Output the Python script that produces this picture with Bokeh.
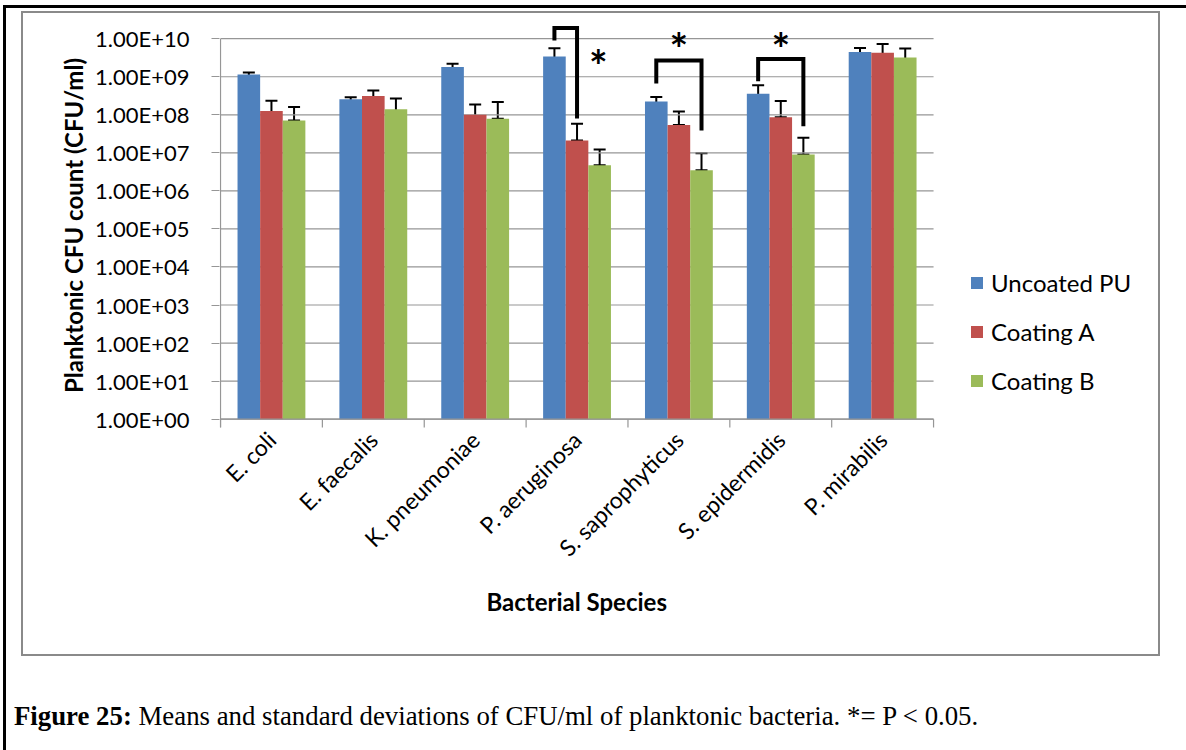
import math
from bokeh.plotting import figure
from bokeh.layouts import column
from bokeh.models import (ColumnDataSource, Range1d, FixedTicker, Whisker, TeeHead,
                          Legend, LegendItem, CustomJSTickFormatter, Div, Title)
from bokeh.core.properties import value
from bokeh.embed import file_html
from bokeh.resources import INLINE

# ---------------- data ----------------
species = ["E. coli", "E. faecalis", "K. pneumoniae", "P. aeruginosa",
           "S. saprophyticus", "S. epidermidis", "P. mirabilis"]
series_names = ["Uncoated PU", "Coating A", "Coating B"]
series_colors = ["#4F81BD", "#C0504D", "#9BBB59"]

uncoated_mean = [1.15e9, 2.55e8, 1.8e9, 3.4e9, 2.25e8, 3.6e8, 4.5e9]
uncoated_sd = [1.5e8, 3.5e7, 4.0e8, 2.2e9, 6.7e7, 2.4e8, 1.2e9]
coating_a_mean = [1.25e8, 3.1e8, 1.0e8, 2.1e7, 5.4e7, 8.6e7, 4.3e9]
coating_a_sd = [1.1e8, 1.25e8, 8.6e7, 3.7e7, 6.9e7, 1.45e8, 2.95e9]
coating_b_mean = [7.1e7, 1.4e8, 7.9e7, 4.7e6, 3.5e6, 9.0e6, 3.2e9]
coating_b_sd = [8.9e7, 1.27e8, 1.38e8, 7.6e6, 6.3e6, 1.6e7, 2.33e9]

y_tick_values = [1e0, 1e1, 1e2, 1e3, 1e4, 1e5, 1e6, 1e7, 1e8, 1e9, 1e10]
y_tick_labels = ["1.00E+00", "1.00E+01", "1.00E+02", "1.00E+03", "1.00E+04", "1.00E+05",
                 "1.00E+06", "1.00E+07", "1.00E+08", "1.00E+09", "1.00E+10"]

# significance brackets (category index, from series, to series, levels)
bracket_species = [3, 4, 5]
bracket_from = [0, 0, 0]
bracket_to = [1, 2, 2]
bracket_top = [1.92e10, 2.66e9, 2.94e9]
bracket_from_end = [9.0e9, 6.67e8, 7.67e8]
bracket_to_end = [8.0e7, 3.84e7, 4.99e7]
star_x = [3.71, 4.5, 5.5]
star_y = [3.3e9, 9.4e9, 9.4e9]

x_title = "Bacterial Species"
y_title = "Planktonic CFU count (CFU/ml)"
caption_bold = "Figure 25:"
caption_text = "Means and standard deviations of CFU/ml of planktonic bacteria. *= P &lt; 0.05."

# ---------------- layout ----------------
W, H = 1135, 641                # chart canvas (inside grey border)
BL, BR, BT, BB = 196, 8, 10, 231
CX0, CY0 = 23, 13               # page position of canvas
PX_PER_CAT = 711 / 7.01         # pixels per category
X_START = -0.01
frame_w = W - BL - BR
X_END = X_START + frame_w / PX_PER_CAT
LOG_LO, LOG_HI = -0.22, 10.4
frame_h = H - BT - BB
px_per_dec = frame_h / (LOG_HI - LOG_LO)
n_cat = len(species)


def Y(py):  # page pixel -> data y (log)
    return 10 ** (LOG_HI - (py - CY0 - BT) / px_per_dec)


p = figure(width=W, height=H, output_backend="svg", toolbar_location=None,
           x_range=Range1d(X_START, X_END), y_range=Range1d(10 ** LOG_LO, 10 ** LOG_HI),
           y_axis_type="log", title=None,
           min_border_left=BL, min_border_right=BR, min_border_top=BT, min_border_bottom=BB,
           margin=(3, 0, 0, 15),
           styles={"border": "2px solid #8a8a8a", "box-sizing": "content-box"})
p.background_fill_color = "white"
p.border_fill_color = "white"
p.outline_line_color = None

FONT = "Lato"
GRID = "#969696"

# horizontal gridlines across the category area only
p.segment(x0=[0] * len(y_tick_values), y0=y_tick_values,
          x1=[n_cat] * len(y_tick_values), y1=y_tick_values,
          line_color=GRID, line_width=1.2)

# bars
bar_w = 0.222
means = [uncoated_mean, coating_a_mean, coating_b_mean]
sds = [uncoated_sd, coating_a_sd, coating_b_sd]
renderers = []
for k in range(3):
    xs = [i + 0.5 + (k - 1) * bar_w for i in range(n_cat)]
    up = [m + s for m, s in zip(means[k], sds[k])]
    lo = [(m - s) if (m - s) > 0 else m for m, s in zip(means[k], sds[k])]
    src = ColumnDataSource(dict(x=xs, top=means[k], upper=up, lower=lo))
    r = p.vbar(x="x", top="top", bottom=y_tick_values[0], width=bar_w, source=src,
               fill_color=series_colors[k], line_color=None)
    renderers.append(r)
    wk = Whisker(source=src, base="x", upper="upper", lower="lower", dimension="height",
                 line_color="black", line_width=2,
                 upper_head=TeeHead(size=12, line_color="black", line_width=2),
                 lower_head=TeeHead(size=12, line_color="black", line_width=2))
    p.add_layout(wk)

# axis lines and category boundary ticks
p.segment(x0=[0], y0=[Y(423)], x1=[0], y1=[y_tick_values[-1]], line_color=GRID, line_width=1.2)
p.segment(x0=[0], y0=[y_tick_values[0]], x1=[n_cat], y1=[y_tick_values[0]],
          line_color=GRID, line_width=1.2)
bx = list(range(n_cat + 1))
p.segment(x0=bx, y0=[y_tick_values[0]] * len(bx), x1=bx, y1=[Y(424)] * len(bx),
          line_color=GRID, line_width=1.2)

# brackets
bxs, bys = [], []
for c, f, t, top, fe, te in zip(bracket_species, bracket_from, bracket_to,
                                 bracket_top, bracket_from_end, bracket_to_end):
    xf = c + 0.5 + (f - 1) * bar_w
    xt = c + 0.5 + (t - 1) * bar_w
    bxs.append([xf, xf, xt, xt])
    bys.append([fe, top, top, te])
p.multi_line(xs=bxs, ys=bys, line_color="black", line_width=4, line_join="miter")
p.text(x=star_x, y=star_y, text=["*"] * len(star_x), text_font=value(FONT),
       text_font_style="bold", text_font_size="44px", text_align="center",
       text_baseline="alphabetic", y_offset=8, text_color="black")

# y axis
p.yaxis.ticker = FixedTicker(ticks=y_tick_values, minor_ticks=[])
p.yaxis.formatter = CustomJSTickFormatter(
    args=dict(vals=y_tick_values, labs=y_tick_labels),
    code="""
    for (let i = 0; i < vals.length; i++) {
        if (Math.abs(Math.log10(vals[i]) - Math.log10(tick)) < 1e-6) return labs[i];
    }
    return "";
    """)
p.yaxis.axis_line_color = None
p.yaxis.major_tick_line_color = GRID
p.yaxis.major_tick_out = 8
p.yaxis.major_tick_in = 0
p.yaxis.minor_tick_line_color = None
p.yaxis.major_label_text_font = FONT
p.yaxis.major_label_text_font_size = "22px"
p.yaxis.major_label_text_color = "black"
p.yaxis.major_label_standoff = 22
p.yaxis.axis_label = y_title
p.yaxis.axis_label_text_font = FONT
p.yaxis.axis_label_text_font_style = "bold"
p.yaxis.axis_label_text_font_size = "24px"
p.yaxis.axis_label_text_color = "black"
p.yaxis.axis_label_standoff = 4

# x axis
p.xaxis.ticker = FixedTicker(ticks=[i + 0.5 for i in range(n_cat)], minor_ticks=[])
p.xaxis.formatter = CustomJSTickFormatter(args=dict(names=species),
                                          code="return names[Math.round(tick - 0.5)] || '';")
p.xaxis.axis_line_color = None
p.xaxis.major_tick_line_color = None
p.xaxis.major_tick_out = 0
p.xaxis.major_tick_in = 0
p.xaxis.minor_tick_line_color = None
p.xaxis.major_label_orientation = math.pi / 4
p.xaxis.major_label_text_font = FONT
p.xaxis.major_label_text_font_size = "23px"
p.xaxis.major_label_text_color = "black"
p.xaxis.major_label_standoff = 8

# x-axis title, centred under the category area (below the axis)
p.add_layout(Title(text=x_title, align="left", offset=267, standoff=20,
                   text_font=FONT, text_font_style="bold", text_font_size="24px",
                   text_color="black"), "below")

p.xgrid.visible = False
p.ygrid.visible = False

# legend (inside the widened frame, to the right of the categories)
legend = Legend(items=[LegendItem(label=n, renderers=[r]) for n, r in zip(series_names, renderers)],
                location=(750, 32), orientation="vertical",
                glyph_width=15, glyph_height=15, label_standoff=7, spacing=20,
                padding=0, margin=0, border_line_color=None, background_fill_alpha=0,
                label_text_font=FONT, label_text_font_size="24px", label_text_color="black")
p.add_layout(legend, "center")

# caption
cap = Div(text=f"<b>{caption_bold}</b> {caption_text}", width=1150, height=50,
          margin=(45, 0, 0, 8),
          styles={"font-family": "'Liberation Serif', 'Times New Roman', serif",
                  "font-size": "26.8px", "color": "black", "line-height": "1.15"})

page = column(p, cap, width=1183, margin=(5, 0, 0, 3),
              styles={"border-left": "3px solid black", "border-top": "3px solid black",
                      "box-sizing": "content-box", "background": "white"})

open("out.html", "w").write(file_html(page, INLINE))
